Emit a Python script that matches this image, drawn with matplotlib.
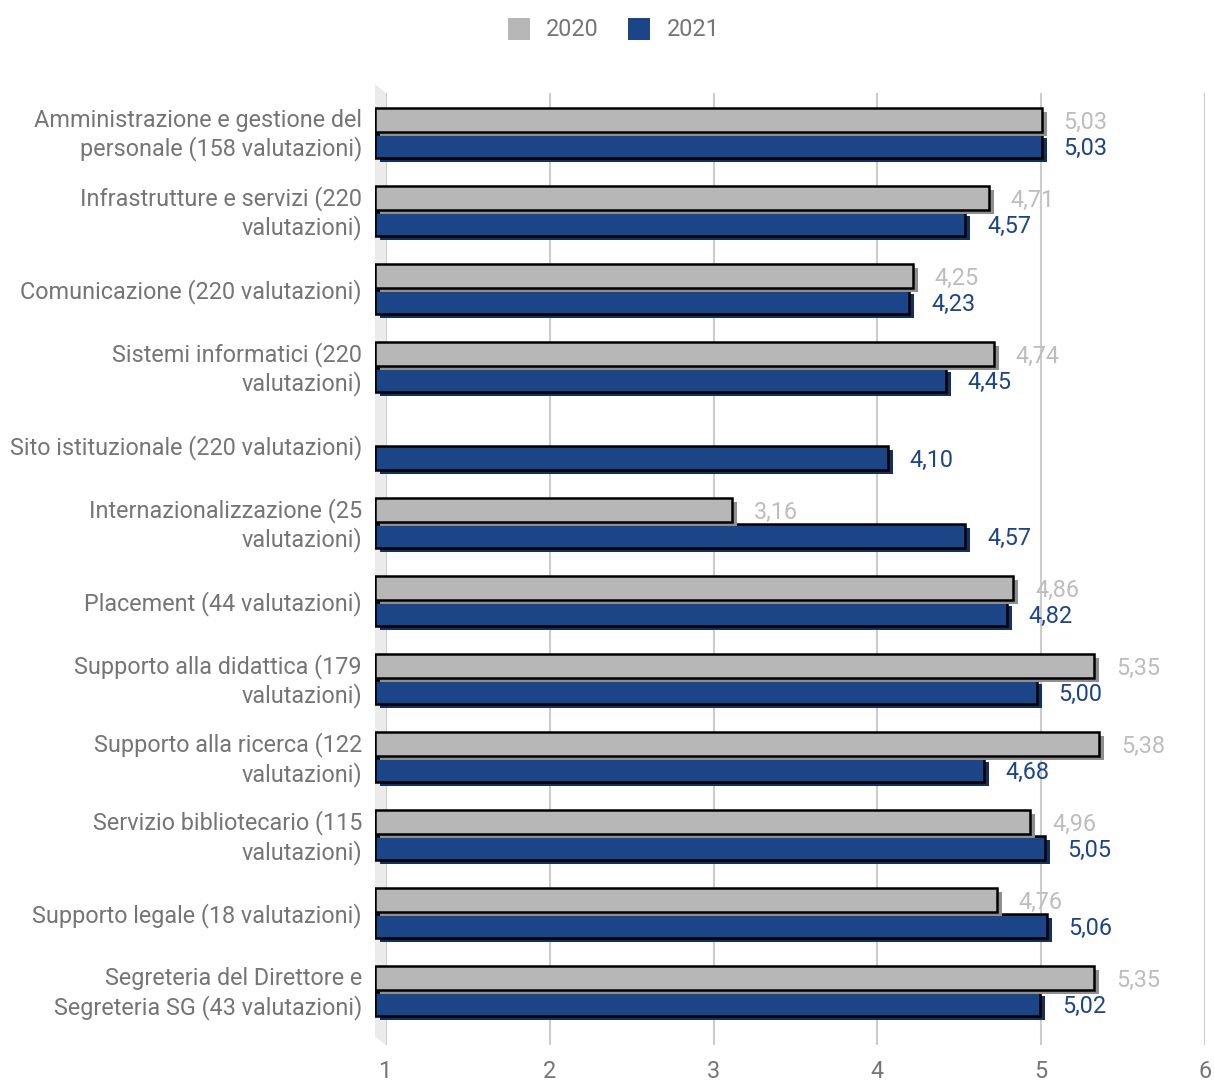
import matplotlib.pyplot as plt
import matplotlib.transforms as mtransforms
from matplotlib.patches import Polygon
import numpy as np

plt.rcParams['font.family'] = ['Roboto', 'DejaVu Sans']

categories = [
    "Amministrazione e gestione del\npersonale (158 valutazioni)",
    "Infrastrutture e servizi (220\nvalutazioni)",
    "Comunicazione (220 valutazioni)",
    "Sistemi informatici (220\nvalutazioni)",
    "Sito istituzionale (220 valutazioni)",
    "Internazionalizzazione (25\nvalutazioni)",
    "Placement (44 valutazioni)",
    "Supporto alla didattica (179\nvalutazioni)",
    "Supporto alla ricerca (122\nvalutazioni)",
    "Servizio bibliotecario (115\nvalutazioni)",
    "Supporto legale (18 valutazioni)",
    "Segreteria del Direttore e\nSegreteria SG (43 valutazioni)",
]
vals_2020 = [5.03, 4.71, 4.25, 4.74, None, 3.16, 4.86, 5.35, 5.38, 4.96, 4.76, 5.35]
vals_2021 = [5.03, 4.57, 4.23, 4.45, 4.10, 4.57, 4.82, 5.00, 4.68, 5.05, 5.06, 5.02]
ticks = [1, 2, 3, 4, 5, 6]

GREY = "#b7b7b7"
BLUE = "#1c4587"
GREY_SIDE = "#8f8f8f"
BLUE_SIDE = "#13305e"
TEXT = "#757575"
FS = 16.8

W, H = 1214, 1084
fig = plt.figure(figsize=(W / 100, H / 100), dpi=100)

def box(l, r, t, b):
    return [l / W, 1 - b / H, (r - l) / W, (b - t) / H]

def px(dx, dy):
    return mtransforms.ScaledTranslation(dx / 100, -dy / 100, fig.dpi_scale_trans)

# back wall: gridlines and tick labels
axb = fig.add_axes(box(386, 1205, 93, 1045))
axb.set_xlim(1, 6)
axb.set_ylim(0, 1)
axb.set_facecolor("none")
for s in axb.spines.values():
    s.set_visible(False)
axb.set_yticks([])
axb.set_xticks(ticks)
axb.tick_params(axis="x", length=0, pad=11, labelsize=FS, labelcolor=TEXT)
axb.grid(axis="x", color="#cccccc", lw=1.5)
axb.set_zorder(0)

wall = Polygon([(375, H - 84), (386, H - 93), (386, H - 1045), (375, H - 1037)],
               closed=True, transform=None, facecolor="#ebebeb", edgecolor="none",
               zorder=-1)
fig.patches.append(wall)

# front face: bars
ax = fig.add_axes(box(375, 1202, 84, 1045))
ax.set_xlim(1, 6)
ax.set_ylim(11.69, -0.629)
ax.set_facecolor("none")
for s in ax.spines.values():
    s.set_visible(False)
ax.set_xticks([])
ax.set_yticks([])
ax.set_zorder(1)

y = np.arange(len(categories))
h = 0.31
off = 13 / 77.9

y20 = [yy - off for yy, v in zip(y, vals_2020) if v is not None]
v20 = [v for v in vals_2020 if v is not None]
y21 = y + off

def bars(yy, vv, face, side, zo):
    # extruded side drawn as an offset copy behind the front face
    shadow = ax.barh(yy, [v - 1 for v in vv], left=1, height=h, color=side,
                     zorder=zo)
    for p in shadow:
        p.set_transform(ax.transData + px(5, 4))
    ax.barh(yy, [v - 1 for v in vv], left=1, height=h, color=face,
            edgecolor="black", linewidth=1.8, zorder=zo + 0.1)

bars(y21, vals_2021, BLUE, BLUE_SIDE, 2)
bars(y20, v20, GREY, GREY_SIDE, 3)

for yy, v in zip(y20, v20):
    ax.text(v, yy, f"{v:.2f}".replace(".", ","), transform=ax.transData + px(22, 2),
            color="#bdbdbd", fontsize=FS, va="center", ha="left", zorder=5)
for yy, v in zip(y21, vals_2021):
    ax.text(v, yy, f"{v:.2f}".replace(".", ","), transform=ax.transData + px(22, 2),
            color=BLUE, fontsize=FS, va="center", ha="left", zorder=5)

for yy, c in zip(y, categories):
    ax.text(1, yy, c, transform=ax.transData + px(-13, 2), ha="right", va="center",
            color=TEXT, fontsize=FS, linespacing=1.25)

# legend
fig.patches.append(plt.Rectangle((508, H - 40), 22, 22, transform=None,
                                 facecolor=GREY, edgecolor="none"))
fig.text(546 / W, 1 - 30 / H, "2020", color=TEXT, fontsize=FS, va="center")
fig.patches.append(plt.Rectangle((628, H - 40), 22, 22, transform=None,
                                 facecolor=BLUE, edgecolor="none"))
fig.text(667 / W, 1 - 30 / H, "2021", color=TEXT, fontsize=FS, va="center")

fig.savefig("out.png", dpi=100)
